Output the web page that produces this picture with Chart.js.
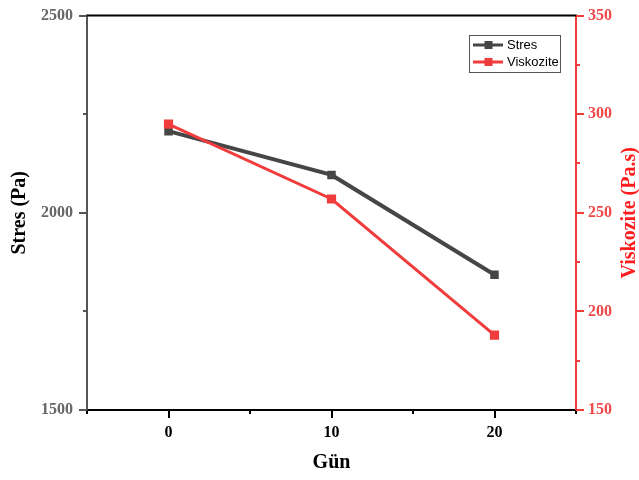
<!DOCTYPE html>
<html>
<head>
<meta charset="utf-8">
<script src="https://cdn.jsdelivr.net/npm/chart.js@4/dist/chart.umd.min.js"></script>
<style>
  html, body { margin: 0; padding: 0; background: #fff; }
  #wrap { width: 639px; height: 480px; }
</style>
</head>
<body>
<div id="wrap"><canvas id="c" width="639" height="480"></canvas></div>
<script>
// Measurements over storage time
const days = [0, 10, 20];
const stres = [2207, 2096, 1843];       // Pa
const viskozite = [295, 257, 188];      // Pa.s

// Axis ticks (labelled majors; minors sit halfway between)
const xMajorTicks = [0, 10, 20];
const stresTicks = [1500, 2000, 2500];
const viskTicks = [150, 200, 250, 300, 350];

const GRAY = '#464646';
const RED = '#f03c3c';
const SERIF = "'Liberation Serif', 'Times New Roman', serif";
const SANS = "'Liberation Sans', Arial, sans-serif";

const toPoints = (xs, ys) => xs.map((x, i) => ({ x: x, y: ys[i] }));

// Frame top edge, tick marks (major + minor) and the right-hand title
const frameAndTicks = {
  id: 'frameAndTicks',
  afterDraw(chart) {
    const ctx = chart.ctx;
    const a = chart.chartArea;
    const sx = chart.scales.x, sy = chart.scales.y, sy1 = chart.scales.y1;
    const seg = (x1, y1, x2, y2) => { ctx.beginPath(); ctx.moveTo(x1, y1); ctx.lineTo(x2, y2); ctx.stroke(); };
    ctx.save();
    ctx.lineWidth = 2;
    ctx.lineCap = 'butt';

    // top edge of frame
    ctx.strokeStyle = '#000';
    seg(a.left - 1, a.top, a.right + 1, a.top);

    // x ticks
    for (let v = sx.min; v <= sx.max; v += 5) {
      const px = Math.round(sx.getPixelForValue(v));
      const len = xMajorTicks.includes(v) ? 8 : 4;
      seg(px, a.bottom, px, a.bottom + len);
    }

    // left ticks
    ctx.strokeStyle = '#555';
    const ls = (stresTicks[1] - stresTicks[0]) / 2;
    for (let v = sy.min; v <= sy.max; v += ls) {
      const py = Math.round(sy.getPixelForValue(v));
      const len = stresTicks.includes(v) ? 8 : 4;
      seg(a.left, py, a.left - len, py);
    }

    // right ticks
    ctx.strokeStyle = RED;
    const rs = (viskTicks[1] - viskTicks[0]) / 2;
    for (let v = sy1.min; v <= sy1.max; v += rs) {
      const py = Math.round(sy1.getPixelForValue(v));
      const len = viskTicks.includes(v) ? 8 : 4;
      seg(a.right, py, a.right + len, py);
    }

    // right axis title, reading bottom to top
    ctx.fillStyle = '#ff1e1e';
    ctx.font = 'bold 20px ' + SERIF;
    ctx.textAlign = 'center';
    ctx.textBaseline = 'middle';
    ctx.translate(630, (a.top + a.bottom) / 2);
    ctx.rotate(-Math.PI / 2);
    ctx.fillText('Viskozite (Pa.s)', 0, 0);
    ctx.restore();
  }
};

// Boxed legend inside the plot area
const boxLegend = {
  id: 'boxLegend',
  afterDraw(chart) {
    const ctx = chart.ctx;
    const bx = 469, by = 35, bw = 91, bh = 37;
    ctx.save();
    ctx.strokeStyle = '#555';
    ctx.lineWidth = 1;
    ctx.strokeRect(bx + 0.5, by + 0.5, bw, bh);
    ctx.font = '13px ' + SANS;
    ctx.textBaseline = 'middle';
    ctx.textAlign = 'left';
    chart.data.datasets.forEach((ds, i) => {
      const cy = by + 10 + i * 17;
      ctx.strokeStyle = ds.borderColor;
      ctx.lineWidth = 3;
      ctx.beginPath(); ctx.moveTo(bx + 4, cy); ctx.lineTo(bx + 34, cy); ctx.stroke();
      ctx.fillStyle = ds.backgroundColor;
      ctx.fillRect(bx + 15.5, cy - 4, 8, 8);
      ctx.fillStyle = '#000';
      ctx.fillText(ds.label, bx + 38, cy + 0.5);
    });
    ctx.restore();
  }
};

const tickFont = { family: SERIF, weight: 'bold', size: 16 };
const titleFont = { family: SERIF, weight: 'bold', size: 20, lineHeight: 1.2 };
const hiddenTicks = { display: true, drawOnChartArea: false, drawTicks: true, tickLength: 8, tickColor: 'rgba(0,0,0,0)' };

new Chart(document.getElementById('c'), {
  type: 'line',
  data: {
    datasets: [
      {
        label: 'Stres',
        data: toPoints(days, stres),
        yAxisID: 'y',
        borderColor: GRAY,
        backgroundColor: GRAY,
        borderWidth: 4,
        pointStyle: 'rect',
        pointRadius: 6,
        pointBorderWidth: 0,
        order: 1
      },
      {
        label: 'Viskozite',
        data: toPoints(days, viskozite),
        yAxisID: 'y1',
        borderColor: RED,
        backgroundColor: RED,
        borderWidth: 3,
        pointStyle: 'rect',
        pointRadius: 6.5,
        pointBorderWidth: 0,
        order: 0
      }
    ]
  },
  options: {
    responsive: false,
    animation: false,
    devicePixelRatio: 1,
    layout: { padding: { top: 15, left: 0, right: 0, bottom: 0 } },
    plugins: { legend: { display: false }, tooltip: { enabled: false } },
    scales: {
      x: {
        type: 'linear',
        min: -5, max: 25,
        afterFit: s => { s.height = 70; },
        grid: hiddenTicks,
        border: { display: true, color: '#000', width: 2 },
        ticks: {
          stepSize: 5, autoSkip: false, maxRotation: 0, padding: 5,
          color: '#000', font: tickFont,
          callback: v => xMajorTicks.includes(v) ? String(v) : ''
        },
        title: { display: true, text: 'Gün', color: '#000', font: titleFont, padding: { top: 0, bottom: 5 } }
      },
      y: {
        position: 'left',
        min: 1500, max: 2500,
        afterFit: s => { s.width = 87; },
        grid: hiddenTicks,
        border: { display: true, color: '#555', width: 2 },
        ticks: {
          stepSize: 250, autoSkip: false, padding: 6,
          color: '#666', font: tickFont,
          callback: v => stresTicks.includes(v) ? String(v) : ''
        },
        title: { display: true, text: 'Stres (Pa)', color: '#000', font: titleFont, padding: { top: 8, bottom: 0 } }
      },
      y1: {
        position: 'right',
        min: 150, max: 350,
        afterFit: s => { s.width = 63; },
        grid: hiddenTicks,
        border: { display: true, color: RED, width: 2 },
        ticks: {
          stepSize: 25, autoSkip: false, padding: 4,
          color: '#f04848', font: tickFont,
          callback: v => viskTicks.includes(v) ? String(v) : ''
        }
      }
    }
  },
  plugins: [frameAndTicks, boxLegend]
});
</script>
</body>
</html>
